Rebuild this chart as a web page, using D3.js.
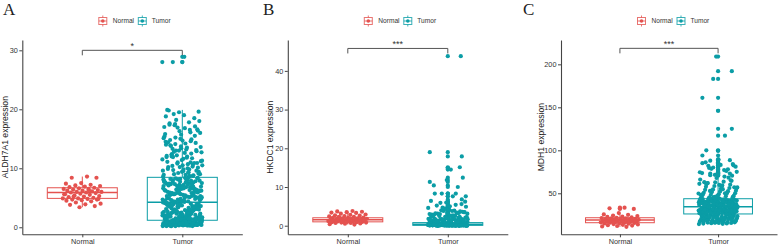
<!DOCTYPE html>
<html><head><meta charset="utf-8">
<script src="https://cdn.jsdelivr.net/npm/d3@7"></script>
<style>
body{margin:0;background:#fff}
svg{display:block}
text{font-family:"Liberation Sans",Arial,Helvetica,sans-serif}
</style>
</head><body><svg id="c" width="778" height="246"></svg>
<script>
// ---------------- DATA ----------------
const categories = ["Normal", "Tumor"];
const panelLetters = ["A", "B", "C"];
const yTitles = ["ALDH7A1 expression", "HKDC1 expression", "MDH1 expression"];
const yTicksA = [0, 10, 20, 30];
const yTicksB = [0, 10, 20, 30, 40];
const yTicksC = [50, 100, 150, 200];
const yDomainA = [-1.19, 31.75];
const yDomainB = [-2.22, 47.98];
const yDomainC = [2.33, 228.3];
const signifLabels = ["*", "***", "***"];
const bracketValues = [30, 45.8, 218.6];

// box stats: [whiskerLow, Q1, median, Q3, whiskerHigh]
const boxNormalA = [3.4, 4.9, 5.9, 6.7, 8.6];
const boxTumorA  = [0.2, 1.19, 4.24, 8.47, 19.9];
const boxNormalB = [0.3, 1.0, 1.55, 2.05, 3.8];
const boxTumorB  = [0.0, 0.1, 0.35, 0.8, 1.85];
const boxNormalC = [11.0, 15.8, 19.0, 21.6, 27.0];
const boxTumorC  = [14.0, 26.0, 34.4, 43.7, 70.0];

const normalA = [8.6,8.4,8.4,7.5,7.4,7.2,7.1,7.0,6.9,6.8,6.7,6.6,6.5,6.5,6.4,6.3,6.2,6.2,6.1,6.0,
  6.0,5.9,5.9,5.8,5.7,5.6,5.5,5.4,5.3,5.2,5.1,5.0,4.9,4.9,4.8,4.7,4.7,4.6,4.5,4.4,
  4.2,4.0,3.9,3.8,3.6,3.4,5.6,6.3,5.2,4.8];
const tumorA = [0.3,0.5,0.4,0.8,1.0,0.6,0.2,0.9,1.1,0.7,0.4,0.3,0.6,0.8,1.2,0.5,0.9,0.3,0.7,1.0,
  0.4,0.6,0.2,1.1,0.8,0.5,0.3,0.9,0.6,0.4,1.0,0.7,0.5,0.3,0.8,1.1,0.6,0.4,0.2,0.9,
  0.7,0.5,1.2,0.3,0.6,0.8,0.4,1.0,0.5,0.7,0.3,0.9,0.6,0.4,1.1,0.8,0.2,0.5,0.7,1.0,
  0.3,0.6,0.9,0.4,0.8,0.5,1.1,0.7,0.3,0.6,0.4,0.9,1.0,0.5,0.8,
  1.3,1.5,1.8,2.1,2.4,1.4,1.9,2.7,3.0,1.6,2.2,3.4,1.3,2.0,2.8,3.7,1.7,2.5,3.1,4.0,
  1.5,2.3,2.9,3.5,1.4,1.8,2.6,3.3,3.9,1.6,2.1,2.7,3.6,4.1,1.3,1.9,2.4,3.2,3.8,1.7,
  2.2,3.0,3.5,1.5,2.0,2.9,3.4,4.2,1.8,2.5,3.1,3.7,1.4,2.3,2.8,3.6,1.6,2.1,3.3,3.9,
  1.9,2.6,3.0,4.0,1.3,2.2,2.7,3.5,1.7,2.4,3.2,3.8,1.5,2.0,2.9,
  4.3,4.6,5.0,5.5,6.0,6.4,7.0,7.5,8.0,8.4,4.4,4.9,5.3,5.8,6.2,6.8,7.3,7.8,8.2,4.5,
  5.1,5.6,6.1,6.6,7.1,7.6,8.1,4.7,5.2,5.7,6.3,6.9,7.4,7.9,8.3,4.8,5.4,5.9,6.5,7.2,
  7.7,8.5,4.4,5.0,5.5,6.0,6.7,7.0,7.5,8.0,4.6,5.1,5.6,6.2,6.8,7.3,7.9,4.3,4.9,5.4,
  6.1,6.6,7.2,7.7,8.3,4.5,5.3,5.8,6.4,6.9,7.6,8.2,4.8,5.7,6.3,
  8.7,9.0,9.4,9.8,10.2,10.6,11.0,11.5,12.0,12.4,12.9,13.4,14.0,14.6,15.2,16.0,16.8,17.6,18.5,19.5,
  8.9,9.3,9.7,10.1,10.5,11.1,11.7,12.2,12.7,13.2,13.8,14.3,15.0,15.8,16.5,17.3,18.0,19.0,19.8,8.8,
  9.2,9.6,10.0,10.4,10.9,11.4,11.9,12.5,13.0,13.6,14.2,14.8,15.5,16.3,17.0,17.8,19.2,9.1,9.5,9.9,
  10.3,10.8,11.3,11.8,12.3,13.1,13.7,14.5,16.1,17.5,
  2.1,5.2,7.4,3.3,6.1,8.1,4.4,2.6,5.9,7.0,3.8,6.6,2.3,4.9,8.3,5.5,3.1,7.7,4.1,6.3,
  2.8,5.0,7.2,3.6,6.9,4.7,2.4,8.0,5.8,3.4,6.5,4.2,7.5,2.9,5.3,8.4,3.9,6.0,4.6,7.9,
  2.5,5.6,3.2,6.7,4.0,7.1,2.7,5.1,8.2,3.7,6.4,4.8,7.6,3.0,5.7,6.2,4.5,7.3,3.5,6.8,
  8.6,10.7,13.3,16.6,9.4,12.1,14.9,18.2,11.2,8.9,13.9,17.1,10.2,15.4,9.8,12.8,19.6,11.6,14.4,8.7,
  16.9,10.5,13.5,12.0,9.6,15.7,18.8,11.0,14.1,9.0,12.6,17.4,10.9,13.0,15.1,9.3,11.9,16.4,14.7,19.9,
  0.5,1.4,0.8,1.9,0.3,1.2,0.6,1.7,1.0,0.4,1.5,0.9,1.8,0.7,1.3,0.2,1.6,1.1,0.5,2.0,
  0.8,1.4,0.3,1.7,1.0,0.6,1.2,1.9,0.4,1.5,0.9,1.3,0.7,1.8,0.2,1.1,1.6,0.5,1.0,1.4];
const tumorAHigh = [28.0, 28.0, 28.9];
const tumorAHighJitter = [-0.2, -0.095, 0.02];

const normalB = [3.8,3.7,3.6,3.5,3.4,3.3,3.1,2.9,2.8,2.7,2.6,2.5,2.4,2.3,2.2,2.1,2.0,2.0,1.9,1.9,
  1.8,1.8,1.7,1.7,1.6,1.6,1.5,1.5,1.4,1.4,1.3,1.3,1.2,1.2,1.1,1.1,1.0,1.0,0.9,0.9,
  0.8,0.8,0.7,0.7,0.6,0.5,0.4,0.3,2.2,1.5];
const tumorB = [0.0,0.1,0.05,0.2,0.3,0.15,0.4,0.1,0.25,0.5,0.0,0.35,0.6,0.2,0.05,0.45,0.8,0.1,0.3,0.7,
  0.1,0.0,0.2,0.4,0.15,0.9,0.3,0.05,0.55,0.1,0.25,0.0,0.65,0.2,0.35,0.1,0.75,0.05,0.4,0.15,
  0.3,0.0,0.5,0.1,0.2,0.85,0.05,0.25,0.45,0.1,0.0,0.6,0.3,0.15,0.95,0.2,0.05,0.4,0.1,0.7,
  0.0,0.2,0.35,0.1,0.5,0.05,0.8,0.25,0.15,0.0,0.45,0.3,0.1,0.65,0.2,0.05,0.55,0.1,0.9,0.35,
  0.15,0.0,0.25,0.6,0.1,0.4,0.05,0.75,0.2,0.3,0.0,0.5,0.1,1.0,0.15,0.35,0.05,0.7,0.2,0.45,
  0.0,0.1,0.3,0.85,0.05,0.2,0.55,0.15,0.4,0.0,0.25,0.65,0.1,0.35,0.95,0.05,0.5,0.2,0.8,0.3,
  1.1,1.4,1.8,2.2,1.2,1.6,2.0,2.4,1.3,1.7,2.1,1.0,1.5,1.9,2.3,1.1,1.6,2.5,1.2,1.8,
  1.4,2.0,1.3,1.7,2.2,1.0,1.5,1.9,2.4,1.2,1.6,2.1,1.4,1.8,2.3,1.1,1.7,2.0,1.3,1.5,
  1.9,2.5,1.0,1.6,2.2,1.4,1.2,1.8,2.1,1.5,
  2.6,3.0,3.5,4.1,2.8,3.3,3.8,4.6,2.7,3.1,3.6,4.3,2.9,3.4,4.0,4.9,2.6,3.2,3.7,4.4,
  3.0,3.9,2.8,3.5,4.2,2.7,3.3,4.7,3.1,3.8,
  5.2,5.6,6.0,6.4,5.4,5.9,6.2,5.0];
const tumorBHigh = [43.8,19.0,17.9,15.1,14.9,14.5,12.4,11.8,11.3,10.4,10.0,8.3,8.3,8.3,7.6,7.6,6.8];
const tumorBHighJitter = [0.13,-0.18,0.14,0.12,0.0,0.03,0.15,-0.01,-0.18,-0.14,0.1,-0.13,-0.06,0.08,0.05,0.18,0.14];

const normalC = [33.3,32.5,31.8,27.0,25.5,25.0,24.2,23.5,23.0,22.5,22.0,21.6,21.2,21.0,20.7,20.4,20.1,19.9,19.6,19.4,
  19.2,19.0,18.8,18.6,18.4,18.2,18.0,17.7,17.5,17.2,17.0,16.8,16.5,16.2,16.0,15.8,15.5,15.2,15.0,14.6,
  14.2,13.8,13.4,13.0,12.5,12.0,11.5,11.0,20.5,18.5];
const tumorC = [14.5,16.0,18.2,20.5,22.8,25.0,15.2,17.4,19.6,21.9,24.1,15.8,17.0,19.0,21.2,23.5,25.8,14.8,16.6,18.8,
  20.9,23.0,25.3,15.5,17.8,19.9,22.3,24.6,16.3,18.5,20.2,22.0,24.4,14.2,16.9,19.3,21.5,23.8,25.6,15.0,
  17.2,19.1,21.0,23.2,25.1,16.1,18.0,20.7,22.6,24.9,15.6,17.6,19.4,21.7,23.4,16.7,18.3,20.0,22.1,24.2,
  26.2,27.5,28.8,30.1,31.4,32.7,33.9,26.8,28.1,29.4,30.7,32.0,33.3,26.5,27.8,29.1,30.4,31.7,33.0,27.1,
  28.4,29.7,31.0,32.3,33.6,26.0,27.3,28.6,29.9,31.2,32.5,33.8,26.7,28.0,29.3,30.6,31.9,33.2,27.0,28.3,
  29.6,30.9,32.2,33.5,26.4,27.7,29.0,30.3,31.6,32.9,26.9,28.2,29.5,30.8,32.1,33.4,27.4,28.7,30.0,31.3,
  34.2,35.5,36.8,38.1,39.4,40.7,42.0,43.3,34.8,36.1,37.4,38.7,40.0,41.3,42.6,43.9,35.1,36.4,37.7,39.0,
  40.3,41.6,42.9,34.5,35.8,37.1,38.4,39.7,41.0,42.3,43.6,35.3,36.6,37.9,39.2,40.5,41.8,43.1,34.0,35.0,
  36.3,37.6,38.9,40.2,41.5,42.8,34.7,36.0,37.3,38.6,39.9,41.2,42.5,43.8,35.6,36.9,38.2,39.5,40.8,42.1,
  44.5,46.0,47.8,49.5,51.3,53.0,55.2,57.5,60.0,62.8,66.0,69.5,45.2,47.0,48.8,50.6,52.5,54.5,56.8,59.2,
  61.8,64.5,67.8,44.8,46.6,48.3,50.1,52.0,54.0,56.2,58.5,61.0,63.5,44.2,45.8,47.5,49.2,51.0,53.5,55.8,
  58.0,60.5,65.2,46.3,48.0,50.0,52.8,57.0,59.8,63.0,68.2,45.5,49.8,54.8,62.0,
  70.5,72.0,73.5,76.0,78.5,81.0,83.0,86.0,88.5,71.5,74.5,77.0,79.5,82.5,89.5];
const tumorCHigh = [209,192,183,161,146,125,117,100,99.5,94,88,85,84,82,80,78,75,73,73,71];
const tumorCHighJitter = [-0.02,0.14,-0.05,-0.16,0.0,0.14,0.07,-0.12,0.0,-0.16,-0.08,-0.16,0.15,-0.1,-0.05,0.1,0.19,-0.08,0.12,-0.08];

// ---------------- DRAWING ----------------
const colors = {Normal: "#E4524F", Tumor: "#0B9DA6"};
const layout = [
  {ox: 0,   left: 22.3,  right: 242.3, titleOff: 17},
  {ox: 260, left: 287.8, right: 507.8, titleOff: 18},
  {ox: 520, left: 561,   right: 777,   titleOff: 20.5}
];
const plotTop = 40, plotBottom = 234.3;
const panels = [
  {ticks: yTicksA, domain: yDomainA, pts: {Normal: normalA, Tumor: tumorA}, high: tumorAHigh, highJ: tumorAHighJitter, box: {Normal: boxNormalA, Tumor: boxTumorA}},
  {ticks: yTicksB, domain: yDomainB, pts: {Normal: normalB, Tumor: tumorB}, high: tumorBHigh, highJ: tumorBHighJitter, box: {Normal: boxNormalB, Tumor: boxTumorB}},
  {ticks: yTicksC, domain: yDomainC, pts: {Normal: normalC, Tumor: tumorC}, high: tumorCHigh, highJ: tumorCHighJitter, box: {Normal: boxNormalC, Tumor: boxTumorC}}
];
const svg = d3.select("#c");
const R = 2.1;
const golden = 0.6180339887;

panels.forEach((p, k) => {
  const L = layout[k];
  const g = svg.append("g");
  const y = d3.scaleLinear().domain(p.domain).range([plotBottom, plotTop]);
  const x = d3.scalePoint().domain(categories).range([L.left, L.right]).padding(0.6);
  const step = x.step();
  const bw = 0.7 * step, jw = 0.2 * step;

  // boxes
  categories.forEach(c => {
    const s = p.box[c], cx = x(c), col = colors[c];
    const bg = g.append("g").attr("stroke", col).attr("fill", "none").attr("stroke-width", 1);
    bg.append("line").attr("x1", cx).attr("x2", cx).attr("y1", y(s[3])).attr("y2", y(s[4]));
    bg.append("line").attr("x1", cx).attr("x2", cx).attr("y1", y(s[1])).attr("y2", y(s[0]));
    bg.append("rect").attr("x", cx - bw/2).attr("width", bw)
      .attr("y", y(s[3])).attr("height", Math.max(0.5, y(s[1]) - y(s[3]))).attr("fill", "#fff");
    bg.append("line").attr("x1", cx - bw/2).attr("x2", cx + bw/2).attr("y1", y(s[2])).attr("y2", y(s[2])).attr("stroke-width", 1.6);
    // boxplot outliers at center
    let all = p.pts[c].slice();
    if (c === "Tumor") all = all.concat(p.high);
    const outs = all.filter(v => v > s[4] || v < s[0]);
    g.selectAll(null).data(outs).enter().append("circle")
      .attr("cx", cx).attr("cy", v => y(v)).attr("r", R).attr("fill", col);
  });

  // jitter points
  categories.forEach(c => {
    const cx = x(c), col = colors[c];
    g.selectAll(null).data(p.pts[c]).enter().append("circle")
      .attr("cx", (v, i) => cx + ((((i + 1) * golden) % 1) * 2 - 1) * jw)
      .attr("cy", v => y(v)).attr("r", R).attr("fill", col);
  });
  g.selectAll(null).data(p.high).enter().append("circle")
    .attr("cx", (v, i) => x("Tumor") + p.highJ[i] * step)
    .attr("cy", v => y(v)).attr("r", R).attr("fill", colors.Tumor);

  // axes
  const ya = g.append("g").attr("transform", `translate(${L.left},0)`)
    .call(d3.axisLeft(y).tickValues(p.ticks).tickSize(3).tickSizeOuter(0).tickPadding(1.5));
  const xa = g.append("g").attr("transform", `translate(0,${plotBottom})`)
    .call(d3.axisBottom(x).tickSize(3).tickSizeOuter(0).tickPadding(2));
  [ya, xa].forEach(a => {
    a.select(".domain").attr("stroke", "#444").attr("stroke-width", 1.1);
    a.selectAll(".tick line").attr("stroke", "#444");
    a.selectAll(".tick text").attr("fill", "#333").style("font-size", "7.3px")
      .style("font-family", '"Liberation Sans", Arial, sans-serif');
  });

  // bracket and significance
  const by = y(bracketValues[k]);
  g.append("path")
    .attr("d", `M${x("Normal")},${by + 5}V${by}H${x("Tumor")}V${by + 5}`)
    .attr("fill", "none").attr("stroke", "#555").attr("stroke-width", 1);
  g.append("text").attr("x", (x("Normal") + x("Tumor")) / 2).attr("y", by - 1)
    .attr("text-anchor", "middle").attr("fill", "#333").style("font-size", "9px")
    .text(signifLabels[k]);

  // y title
  g.append("text")
    .attr("transform", `translate(${L.left - L.titleOff},${(plotTop + plotBottom) / 2}) rotate(-90)`)
    .attr("text-anchor", "middle").attr("dy", "0.35em")
    .attr("fill", "#222").style("font-size", "8.6px").text(yTitles[k]);

  // panel letter
  g.append("text").attr("x", L.ox + 3).attr("y", 15)
    .style("font-family", '"Liberation Serif", "Times New Roman", serif')
    .style("font-size", "17px").attr("fill", "#222").text(panelLetters[k]);

  // legend
  const lg = g.append("g").attr("transform", `translate(${L.left},21)`);
  const keyX = {Normal: 80.5, Tumor: 120}, txtX = {Normal: 90.5, Tumor: 129.5};
  categories.forEach(c => {
    const col = colors[c];
    const kg = lg.append("g").attr("transform", `translate(${keyX[c]},0)`)
      .attr("stroke", col).attr("fill", "none").attr("stroke-opacity", 0.8);
    kg.append("rect").attr("x", -4).attr("y", -3.5).attr("width", 8).attr("height", 7);
    kg.append("line").attr("x1", 0).attr("x2", 0).attr("y1", -5.5).attr("y2", -3.5);
    kg.append("line").attr("x1", 0).attr("x2", 0).attr("y1", 3.5).attr("y2", 5.5);
    kg.append("line").attr("x1", -4).attr("x2", 4).attr("y1", 0).attr("y2", 0);
    kg.append("circle").attr("r", 1.8).attr("fill", col).attr("stroke", "none");
    lg.append("text").attr("x", txtX[c]).attr("y", 0).attr("dy", "0.35em")
      .attr("fill", "#333").style("font-size", "6.6px").text(c);
  });
});
</script>
</body></html>
